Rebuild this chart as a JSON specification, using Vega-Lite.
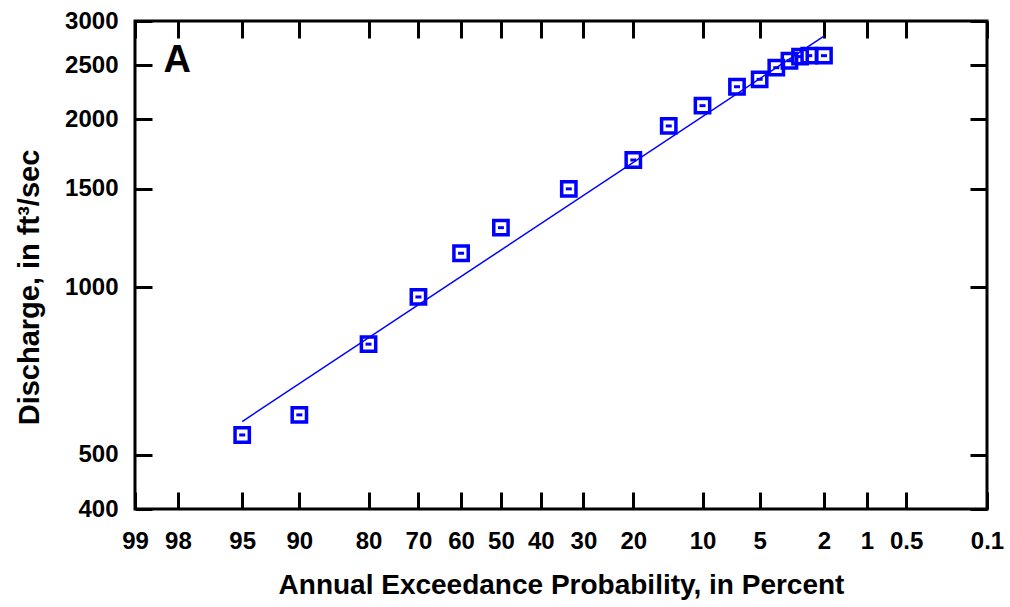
{
  "$schema": "https://vega.github.io/schema/vega-lite/v6.json",
  "width": 852,
  "height": 488,
  "autosize": {"type": "none"},
  "padding": {"left": 135, "top": 21, "right": 23, "bottom": 98},
  "config": {
    "font": "Liberation Sans",
    "view": {"stroke": "#000000", "strokeWidth": 3},
    "axis": {
      "domain": false,
      "grid": false,
      "tickColor": "#000000",
      "tickWidth": 3,
      "tickSize": -17,
      "labelColor": "#000000",
      "labelFont": "Liberation Sans",
      "labelFontSize": 24,
      "labelFontWeight": "bold",
      "titleColor": "#000000",
      "titleFont": "Liberation Sans",
      "titleFontSize": 28,
      "titleFontWeight": "bold"
    }
  },
  "layer": [
    {
      "data": {
        "values": [
          {"p": 95, "q": 543},
          {"p": 90, "q": 590},
          {"p": 80, "q": 790},
          {"p": 70, "q": 960},
          {"p": 60, "q": 1150},
          {"p": 50, "q": 1278},
          {"p": 33.3, "q": 1500},
          {"p": 20, "q": 1690},
          {"p": 14.3, "q": 1945},
          {"p": 10, "q": 2115},
          {"p": 6.67, "q": 2287},
          {"p": 5, "q": 2358},
          {"p": 4, "q": 2474},
          {"p": 3.33, "q": 2546},
          {"p": 2.86, "q": 2590},
          {"p": 2.5, "q": 2600},
          {"p": 2, "q": 2600}
        ]
      },
      "transform": [{"calculate": "quantileNormal(1 - datum.p / 100)", "as": "z"}],
      "encoding": {
        "x": {
          "field": "z",
          "type": "quantitative",
          "scale": {"domain": [-2.326348, 3.090232], "nice": false, "zero": false},
          "axis": {
            "orient": "bottom",
            "values": [-2.326348, -2.053749, -1.644854, -1.281552, -0.841621, -0.524401, -0.253347, 0, 0.253347, 0.524401, 0.841621, 1.281552, 1.644854, 2.053749, 2.326348, 2.575829, 3.090232],
            "labelExpr": "100 * (1 - cumulativeNormal(datum.value)) >= 0.99 ? format(100 * (1 - cumulativeNormal(datum.value)), '.0f') : format(100 * (1 - cumulativeNormal(datum.value)), '.1f')",
            "labelPadding": 37,
            "labelFlush": false,
            "labelOverlap": false,
            "title": "Annual Exceedance Probability, in Percent",
            "titlePadding": 18
          }
        },
        "y": {
          "field": "q",
          "type": "quantitative",
          "scale": {"type": "log", "domain": [400, 3000], "nice": false},
          "axis": {
            "orient": "left",
            "values": [400, 500, 1000, 1500, 2000, 2500, 3000],
            "format": "d",
            "labelPadding": 34,
            "labelFlush": false,
            "labelOverlap": false,
            "title": "Discharge, in ft³/sec",
            "titleFontSize": 29,
            "titleY": 266,
            "titlePadding": 20
          }
        }
      },
      "layer": [
        {
          "mark": {"type": "point", "shape": "square", "filled": false, "stroke": "#0000ff", "strokeWidth": 3.5, "size": 205, "opacity": 1}
        },
        {
          "mark": {"type": "point", "shape": "M-1,-0.5H1V0.5H-1Z", "filled": true, "fill": "#0000ff", "strokeWidth": 0, "size": 36, "opacity": 1}
        }
      ]
    },
    {
      "data": {"values": [{"p": 95, "q": 574}, {"p": 2, "q": 2819}]},
      "transform": [{"calculate": "quantileNormal(1 - datum.p / 100)", "as": "z"}],
      "mark": {"type": "line", "color": "#0000ff", "strokeWidth": 1.5},
      "encoding": {
        "x": {
          "field": "z",
          "type": "quantitative",
          "scale": {"domain": [-2.326348, 3.090232], "nice": false, "zero": false},
          "axis": {
            "orient": "top",
            "values": [-2.326348, -2.053749, -1.644854, -1.281552, -0.841621, -0.524401, -0.253347, 0, 0.253347, 0.524401, 0.841621, 1.281552, 1.644854, 2.053749, 2.326348, 2.575829, 3.090232],
            "labels": false,
            "title": null
          }
        },
        "y": {
          "field": "q",
          "type": "quantitative",
          "scale": {"type": "log", "domain": [400, 3000], "nice": false},
          "axis": {
            "orient": "right",
            "values": [400, 500, 1000, 1500, 2000, 2500, 3000],
            "labels": false,
            "title": null
          }
        }
      }
    },
    {
      "data": {"values": [{"label": "A", "p": 98.4, "q": 2430}]},
      "transform": [{"calculate": "quantileNormal(1 - datum.p / 100)", "as": "z"}],
      "mark": {"type": "text", "align": "left", "baseline": "alphabetic", "font": "Liberation Sans", "fontSize": 38, "fontWeight": "bold", "color": "#000000"},
      "encoding": {
        "x": {"field": "z", "type": "quantitative", "axis": null, "scale": {"domain": [-2.326348, 3.090232], "nice": false, "zero": false}},
        "y": {"field": "q", "type": "quantitative", "axis": null, "scale": {"type": "log", "domain": [400, 3000], "nice": false}},
        "text": {"field": "label"}
      }
    }
  ],
  "resolve": {"axis": {"x": "independent", "y": "independent"}}
}
